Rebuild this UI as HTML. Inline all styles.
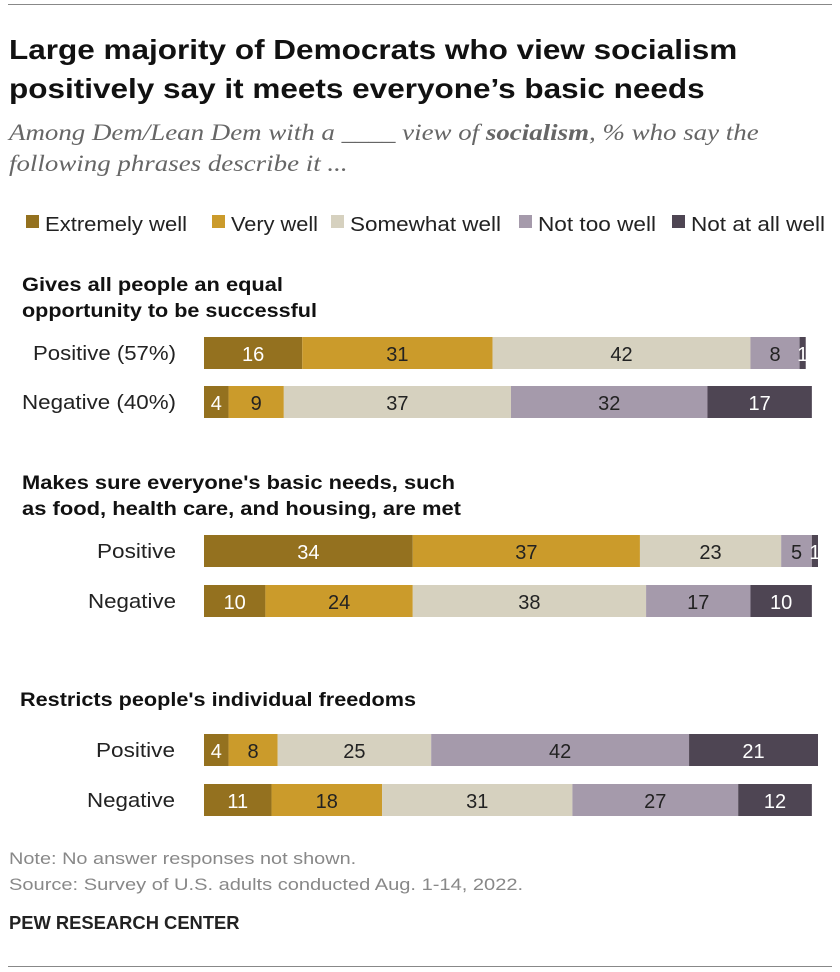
<!DOCTYPE html>
<html><head><meta charset="utf-8">
<style>
body{margin:0;background:#fff;font-family:"Liberation Sans",sans-serif;}
#wrap{position:relative;width:840px;height:972px;overflow:hidden;}
.t{position:absolute;white-space:nowrap;transform-origin:0 0;}
</style></head>
<body><div id="wrap">
<div class="t" style="left:8px;top:4px;width:824px;height:1px;background:#888"></div>
<div class="t" style="left:9px;top:30px;font-size:28px;font-weight:bold;line-height:39px;color:#111;transform:scaleX(1.125)">Large majority of Democrats who view socialism<br>positively say it meets everyone’s basic needs</div>
<div class="t" style="left:9px;top:117px;font-family:'Liberation Serif',serif;font-style:italic;font-size:23px;line-height:31px;color:#666;transform:scaleX(1.17)">Among Dem/Lean Dem with a ____ view of <b>socialism</b>, % who say the<br>following phrases describe it ...</div>
<svg id="chart" width="840" height="972" style="position:absolute;left:0;top:0"></svg>
<div class="t" style="left:9px;top:849px;font-size:17px;color:#888;transform:scaleX(1.17)">Note: No answer responses not shown.</div>
<div class="t" style="left:9px;top:875px;font-size:17px;color:#888;transform:scaleX(1.18)">Source: Survey of U.S. adults conducted Aug. 1-14, 2022.</div>
<div class="t" style="left:9px;top:913px;font-size:18px;font-weight:bold;color:#222;transform:scaleX(1.02)">PEW RESEARCH CENTER</div>
<div class="t" style="left:8px;top:966px;width:824px;height:1px;background:#888"></div>
</div>
<script>
const categories=["Extremely well","Very well","Somewhat well","Not too well","Not at all well"];
const colors=["#94711f","#cb9b2b","#d6d1bf","#a59aab","#4e4553"];
const textColors=["#fff","#222","#222","#222","#fff"];
const rowLabels=["Positive (57%)","Negative (40%)","Positive","Negative","Positive","Negative"];
const extremely=[16,4,34,10,4,11];
const very=[31,9,37,24,8,18];
const somewhat=[42,37,23,38,25,31];
const notToo=[8,32,5,17,42,27];
const notAtAll=[1,17,1,10,21,12];
const groupTitles=["Gives all people an equal\nopportunity to be successful","Makes sure everyone's basic needs, such\nas food, health care, and housing, are met","Restricts people's individual freedoms"];
const rowY=[337,386,535,585,734,784];
const labelRight=[176,176,176,176,175,175];
const labelLen=[143,154,79,88,79,88];
const titleY=[[291,317],[489,515],[706]];
const titleLen=[[261,295],[433,439],[396]];
const legendX=[26,212,331,519,672];
const legendLen=[142,87,151,118,134];
const series=[extremely,very,somewhat,notToo,notAtAll];
const svg=document.getElementById('chart');
const NS='http://www.w3.org/2000/svg';
const x0=204, unit=6.14, barH=32;
const xs=v=>x0+v*unit;
function mk(tag,attrs){const e=document.createElementNS(NS,tag);for(const k in attrs)e.setAttribute(k,attrs[k]);svg.appendChild(e);return e;}
categories.forEach((c,i)=>{
 const r=mk('rect',{x:legendX[i],y:215,width:13,height:13,fill:colors[i]});
 
 
 const t=mk('text',{x:legendX[i]+19,y:231,'font-size':20,fill:'#222',textLength:legendLen[i],lengthAdjust:'spacingAndGlyphs'});
 t.textContent=c;
 
 
});
groupTitles.forEach((g,gi)=>{
 g.split('\n').forEach((line,li)=>{
  const t=mk('text',{x:gi==2?20:22,y:titleY[gi][li],'font-size':19,'font-weight':'bold',fill:'#111',textLength:titleLen[gi][li],lengthAdjust:'spacingAndGlyphs'});
  t.textContent=line;
  
  
 });
});
rowLabels.forEach((lab,ri)=>{
 const y=rowY[ri];
 const t=mk('text',{x:labelRight[ri]-labelLen[ri],y:y+23,'font-size':20,fill:'#222',textLength:labelLen[ri],lengthAdjust:'spacingAndGlyphs'});
 t.textContent=lab;
 
 
 let cum=0;
 series.forEach((s,si)=>{
  const v=s[ri];
  const r=mk('rect',{x:xs(cum),y:y,width:v*unit,height:barH,fill:colors[si]});
  
  
  const tx=mk('text',{x:xs(cum+v/2),y:y+24,'font-size':20,fill:textColors[si],'text-anchor':'middle'});
  tx.textContent=v;
  
  
  cum+=v;
 });
});
</script>
</body></html>
